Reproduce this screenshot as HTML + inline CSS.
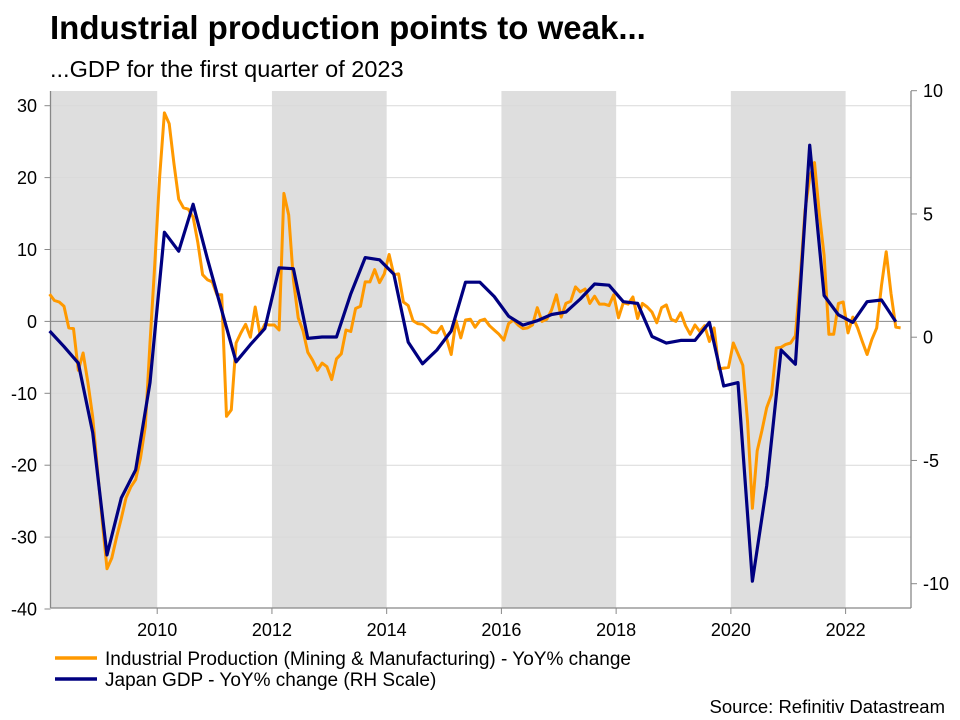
<!DOCTYPE html>
<html><head><meta charset="utf-8">
<style>
body{margin:0;background:#fff;font-family:"Liberation Sans",sans-serif;}
#wrap{position:relative;width:960px;height:720px;overflow:hidden;}
</style></head>
<body>
<div id="wrap">
<svg id="svg" width="960" height="720" style="position:absolute;left:0;top:0;font-family:'Liberation Sans',sans-serif">
<text x="50" y="39" font-size="33" font-weight="bold" fill="#000">Industrial production points to weak...</text>
<text x="50" y="77" font-size="23.5" fill="#000">...GDP for the first quarter of 2023</text>
<text x="945" y="713" font-size="18.5" text-anchor="end" fill="#000">Source: Refinitiv Datastream</text>
</svg>
</div>
<script>
const ipStart = [2008, 2];
const ipValues = [
3.8,2.9,2.7,2.1,-0.9,-1.0,-6.8,-4.4,-8.5,-13.3,-20.5,
-27.7,-34.4,-32.9,-30,-27.4,-24.5,-23,-22,-19,-14.6,-3,8,
20,29,27.5,22,17,15.8,15.6,14.5,11,6.5,5.8,5.5,
3.7,3.7,-13.2,-12.3,-3,-1.6,-0.4,-2.2,2.0,-1.8,-0.4,-0.5,
-0.5,-1.2,17.8,14.8,5.8,0.5,-1.3,-4.3,-5.4,-6.8,-5.8,-6.3,
-8.1,-5.2,-4.5,-1.2,-1.4,1.8,2.1,5.5,5.5,7.2,5.4,6.6,
9.3,6.5,6.6,2.7,2.2,0.1,-0.3,-0.4,-0.9,-1.5,-1.6,-0.7,
-2.3,-4.6,0.1,-2.3,0.2,0.3,-0.8,0.1,0.3,-0.6,-1.2,-1.8,
-2.6,-0.3,0.2,-0.5,-1,-0.9,-0.5,1.9,0,0.3,1.6,3.7,
0.6,2.5,2.8,4.8,4.1,4.5,2.5,3.5,2.4,2.4,2.2,3.7,
0.5,2.6,2.4,3.4,0.4,2.5,2.0,1.3,-0.2,1.9,2.3,0.3,
0,1.2,-0.6,-1.8,-0.5,-1.4,-0.6,-2.8,-0.9,-6.6,-6.5,-6.4,
-3,-4.5,-6.1,-14,-26,-18,-15.2,-12,-10.2,-3.7,-3.6,-3.2,
-3,-2,6,15.4,20,22.1,15,9.2,-1.8,-1.8,2.5,2.7,
-1.6,0.6,-0.9,-2.8,-4.6,-2.5,-0.9,5,9.7,3.9,-0.8,-0.9];
const gdpStart = [2008, 1];
const gdpValues = [
0.25,-0.38,-1.05,-3.87,-8.83,-6.52,-5.38,-1.84,
4.26,3.49,5.39,3.18,1.09,-1.0,-0.3,0.35,
2.81,2.78,-0.05,0.01,0.01,1.76,3.23,3.14,
2.56,-0.2,-1.08,-0.52,0.25,2.23,2.23,1.65,
0.85,0.49,0.67,0.92,1.02,1.55,2.16,2.11,
1.44,1.37,0.03,-0.24,-0.13,-0.13,0.6,-1.98,
-1.84,-9.9,-6.03,-0.52,-1.1,7.79,1.69,0.91,
0.6,1.44,1.51,0.63];
const leftTicks = [30,20,10,0,-10,-20,-30,-40];
const rightTicks = [10,5,0,-5,-10];
const yearTicks = [2010,2012,2014,2016,2018,2020,2022];
const shadeBands = [[2008,2010],[2012,2014],[2016,2018],[2020,2022]];

const X0=50.5, X1=911, T0=2008.14, T1=2023.14, TOP=91, BOT=608;
const x = t => X0 + (t-T0)/(T1-T0)*(X1-X0);
const yL = v => 321.4 - v*7.19;
const yR = v => 337.2 - v*24.65;
const NS='http://www.w3.org/2000/svg';
const svg=document.getElementById('svg');
function mk(tag, attrs){const e=document.createElementNS(NS,tag);for(const k in attrs)e.setAttribute(k,attrs[k]);svg.appendChild(e);return e;}

shadeBands.forEach(b=>{
  const a=Math.max(x(b[0]),X0), c=x(b[1]);
  const r=mk('rect',{x:a,y:TOP,width:c-a,height:BOT-TOP,fill:'#dedede'});
  
  
});
leftTicks.forEach(v=>{
  const yy=yL(v);
  if(v!==0&&v!==-40){const g=mk('line',{x1:X0,x2:X1,y1:yy,y2:yy,stroke:'#d9d9d9','stroke-width':1});
  
  }
  mk('line',{x1:X0-6,x2:X0,y1:yy,y2:yy,stroke:'#888','stroke-width':1});
  const t=mk('text',{x:37,y:yy+6.5,'text-anchor':'end','font-size':18,fill:'#000'});
  t.textContent=v;
  
  
});
rightTicks.forEach(v=>{
  const yy=yR(v);
  mk('line',{x1:X1,x2:X1+6,y1:yy,y2:yy,stroke:'#888','stroke-width':1});
  const t=mk('text',{x:X1+12,y:yy+6.5,'text-anchor':'start','font-size':18,fill:'#000'});
  t.textContent=v;
  
  
});
yearTicks.forEach(yr=>{
  const xx=x(yr);
  mk('line',{x1:xx,x2:xx,y1:BOT,y2:BOT+6,stroke:'#888','stroke-width':1});
  const t=mk('text',{x:xx,y:636,'text-anchor':'middle','font-size':18,fill:'#000'});
  t.textContent=yr;
  
  
});
const z=mk('line',{x1:X0,x2:X1,y1:yL(0),y2:yL(0),stroke:'#888','stroke-width':1});


mk('line',{x1:X0,x2:X0,y1:TOP,y2:BOT,stroke:'#888','stroke-width':1.3});
mk('line',{x1:X1,x2:X1,y1:TOP,y2:BOT,stroke:'#888','stroke-width':1.3});
mk('line',{x1:X0,x2:X1,y1:BOT,y2:BOT,stroke:'#888','stroke-width':1.3});

const ipPts=ipValues.map((v,i)=>{const m=ipStart[1]-1+i;const t=ipStart[0]+(m+0.5)/12;return x(t).toFixed(1)+','+yL(v).toFixed(1);});
const p1=mk('polyline',{points:ipPts.join(' '),fill:'none',stroke:'#ff9900','stroke-width':3,'stroke-linejoin':'round'});


const gdpPts=gdpValues.map((v,i)=>{const q=gdpStart[1]-1+i;const t=gdpStart[0]+(q+0.5)/4;return x(t).toFixed(1)+','+yR(v).toFixed(1);});
const p2=mk('polyline',{points:gdpPts.join(' '),fill:'none',stroke:'#000080','stroke-width':3.2,'stroke-linejoin':'round'});



const legend=[['Industrial Production (Mining & Manufacturing) - YoY% change','#ff9900',658],['Japan GDP - YoY% change (RH Scale)','#000080',679]];
legend.forEach(l=>{
  const ln=mk('line',{x1:55,x2:97,y1:l[2],y2:l[2],stroke:l[1],'stroke-width':3.5});
  
  
  const t=mk('text',{x:105,y:l[2]+7,'font-size':19,fill:'#000'});
  t.textContent=l[0];
  
  
});
</script>
</body></html>
